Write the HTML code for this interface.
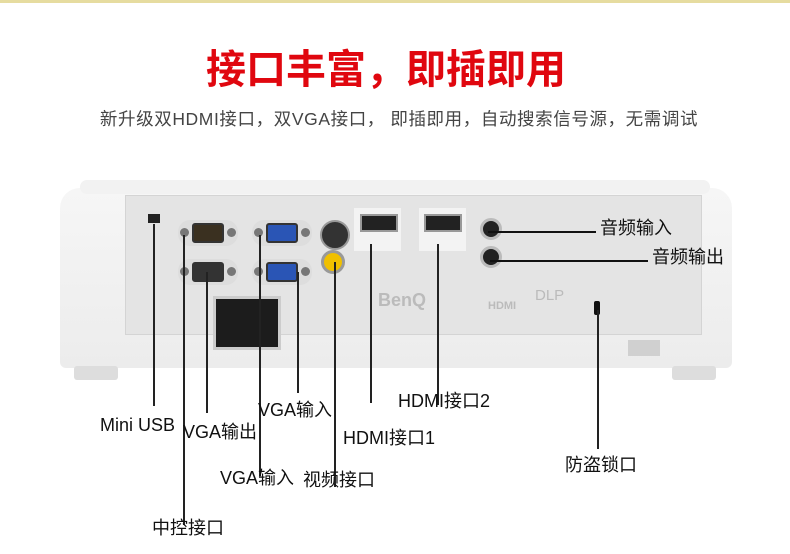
<!DOCTYPE html>
<html><head><meta charset="utf-8"><style>
body{margin:0;width:790px;height:554px;background:#fff;position:relative;overflow:hidden;font-family:"Liberation Sans","Noto Sans CJK SC",sans-serif}
.a{position:absolute}
.l{position:absolute;font-size:18px;color:#111;white-space:nowrap;line-height:20px}
.v{position:absolute;width:1.5px;background:#222}
.h{position:absolute;height:2px;background:#111}
.vga{position:absolute;width:60px;height:26px;background:#ddd;border-radius:12px}
.vga i{position:absolute;left:14px;top:3px;width:32px;height:20px;background:#2a55b5;border:2px solid #333;border-radius:3px;box-sizing:border-box}
.vga.k i{background:#333}
.vga b{position:absolute;top:8px;width:9px;height:9px;border-radius:50%;background:#777}
</style></head><body>
<div class="a" style="left:0;top:0;width:790px;height:3px;background:#e6dca0"></div>
<div class="a" style="left:0;top:38px;width:790px;text-align:center;font-size:40px;font-weight:bold;color:#e0070f;font-family:'Noto Sans CJK SC',sans-serif;line-height:56px;letter-spacing:0px;padding-right:18px;box-sizing:border-box">接口丰富，即插即用</div>
<div class="a" style="left:86px;top:106px;width:626px;text-align:center;font-size:17.5px;color:#444;line-height:26px;white-space:nowrap;letter-spacing:0.6px">新升级双HDMI接口，双VGA接口， 即插即用，自动搜索信号源，无需调试</div>

<div class="a" style="left:60px;top:188px;width:672px;height:180px;background:linear-gradient(#f6f6f6,#ececec);border-radius:20px 20px 6px 6px"></div>
<div class="a" style="left:80px;top:180px;width:630px;height:14px;background:#f2f2f2;border-radius:8px"></div>
<div class="a" style="left:74px;top:366px;width:44px;height:14px;background:#ddd;border-radius:3px"></div>
<div class="a" style="left:672px;top:366px;width:44px;height:14px;background:#ddd;border-radius:3px"></div>
<div class="a" style="left:125px;top:195px;width:575px;height:138px;background:#e4e4e4;border:1px solid #d4d4d4"></div>
<div class="a" style="left:628px;top:340px;width:32px;height:16px;background:#d0d0d0"></div>
<div class="a" style="left:148px;top:214px;width:12px;height:9px;background:#222"></div>
<div class="vga k" style="left:178px;top:220px"><b style="left:2px"></b><i style="background:#3a3020"></i><b style="right:2px"></b></div>
<div class="vga k" style="left:178px;top:259px"><b style="left:2px"></b><i></i><b style="right:2px"></b></div>
<div class="vga" style="left:252px;top:220px"><b style="left:2px"></b><i></i><b style="right:2px"></b></div>
<div class="vga" style="left:252px;top:259px"><b style="left:2px"></b><i></i><b style="right:2px"></b></div>
<div class="a" style="left:320px;top:220px;width:26px;height:26px;border-radius:50%;background:#333;border:2px solid #999"></div>
<div class="a" style="left:321px;top:250px;width:24px;height:24px;border-radius:50%;background:#f0c000;border:3px solid #999;box-sizing:border-box"></div>
<div class="a" style="left:354px;top:208px;width:47px;height:43px;background:#f3f3f3"></div>
<div class="a" style="left:360px;top:214px;width:34px;height:14px;background:#222;border:2px solid #999"></div>
<div class="a" style="left:419px;top:208px;width:47px;height:43px;background:#f3f3f3"></div>
<div class="a" style="left:424px;top:214px;width:34px;height:14px;background:#222;border:2px solid #999"></div>
<div class="a" style="left:480px;top:218px;width:16px;height:16px;border-radius:50%;background:#222;border:3px solid #bbb"></div>
<div class="a" style="left:480px;top:246px;width:16px;height:16px;border-radius:50%;background:#222;border:3px solid #bbb"></div>
<div class="a" style="left:213px;top:296px;width:62px;height:48px;background:#1c1c1c;border:3px solid #ccc"></div>
<div class="a" style="left:378px;top:290px;font-size:18px;font-weight:bold;color:#bbb">BenQ</div>
<div class="a" style="left:488px;top:300px;font-size:11px;font-weight:bold;color:#bbb">HDMI</div>
<div class="a" style="left:535px;top:287px;font-size:15px;color:#bbb">DLP</div>
<div class="a" style="left:594px;top:301px;width:6px;height:14px;background:#111;border-radius:2px"></div>

<div class="v" style="left:153px;top:224px;height:182px"></div>
<div class="v" style="left:183px;top:235px;height:290px"></div>
<div class="v" style="left:206px;top:272px;height:141px"></div>
<div class="v" style="left:259px;top:235px;height:241px"></div>
<div class="v" style="left:297px;top:272px;height:121px"></div>
<div class="v" style="left:334px;top:262px;height:225px"></div>
<div class="v" style="left:370px;top:244px;height:159px"></div>
<div class="v" style="left:437px;top:244px;height:161px"></div>
<div class="v" style="left:597px;top:310px;height:139px"></div>
<div class="h" style="left:488px;top:231px;width:108px"></div>
<div class="h" style="left:490px;top:260px;width:158px"></div>

<div class="l" style="left:600px;top:218px">音频输入</div>
<div class="l" style="left:652px;top:247px">音频输出</div>
<div class="l" style="left:100px;top:415px">Mini USB</div>
<div class="l" style="left:183px;top:422px">VGA输出</div>
<div class="l" style="left:258px;top:400px">VGA输入</div>
<div class="l" style="left:398px;top:391px">HDMI接口2</div>
<div class="l" style="left:343px;top:428px">HDMI接口1</div>
<div class="l" style="left:565px;top:455px">防盗锁口</div>
<div class="l" style="left:220px;top:468px">VGA输入</div>
<div class="l" style="left:303px;top:470px">视频接口</div>
<div class="l" style="left:152px;top:518px">中控接口</div>
</body></html>
